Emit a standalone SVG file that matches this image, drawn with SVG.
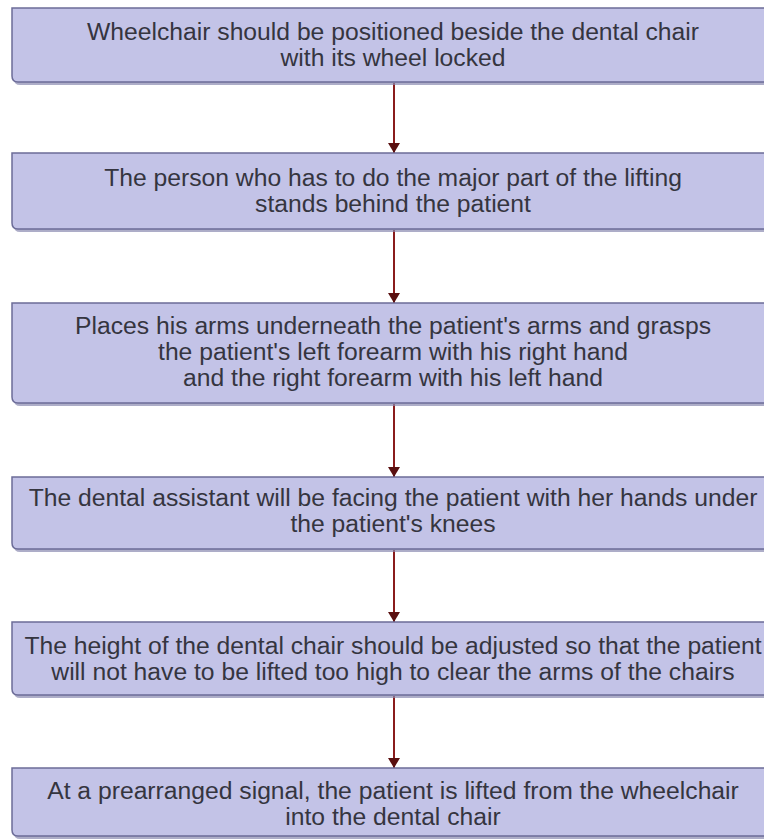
<svg xmlns="http://www.w3.org/2000/svg" width="764" height="840" viewBox="0 0 764 840">
<style>
.box{fill:#c3c3e7;stroke:#6c6c98;stroke-width:1.5}
.shadow{fill:#8a8ab0;opacity:0.7}
.t{font-family:"Liberation Sans",Arial,sans-serif;font-size:24.7px;fill:#35353f;text-anchor:middle}
.c{stroke:#8a1c1c;stroke-width:2;fill:none}
</style>
<defs>
<marker id="ah" viewBox="0 0 10 12" refX="10" refY="6" markerWidth="10" markerHeight="12" markerUnits="userSpaceOnUse" orient="auto">
<path d="M0,0 L10,6 L0,12 Z" fill="#5a1010"/>
</marker>
</defs>
<rect width="764" height="840" fill="#ffffff"/>
<g id="connectors">
<line class="c" x1="394" y1="83" x2="394" y2="153" marker-end="url(#ah)"/>
<line class="c" x1="394" y1="230" x2="394" y2="303" marker-end="url(#ah)"/>
<line class="c" x1="394" y1="404" x2="394" y2="477" marker-end="url(#ah)"/>
<line class="c" x1="394" y1="550" x2="394" y2="622" marker-end="url(#ah)"/>
<line class="c" x1="394" y1="696" x2="394" y2="768" marker-end="url(#ah)"/>
</g>
<g id="n1">
<path class="shadow" d="M14,10 H780 V85 H20 Q14,85 14,79 Z"/>
<path class="box" d="M12,8 H780 V82 H18 Q12,82 12,76 Z"/>
<text class="t" x="393" y="40">Wheelchair should be positioned beside the dental chair</text>
<text class="t" x="393" y="66">with its wheel locked</text>
</g>
<g id="n2">
<path class="shadow" d="M14,155 H780 V232 H20 Q14,232 14,226 Z"/>
<path class="box" d="M12,153 H780 V229 H18 Q12,229 12,223 Z"/>
<text class="t" x="393" y="186">The person who has to do the major part of the lifting</text>
<text class="t" x="393" y="212">stands behind the patient</text>
</g>
<g id="n3">
<path class="shadow" d="M14,305 H780 V406 H20 Q14,406 14,400 Z"/>
<path class="box" d="M12,303 H780 V403 H18 Q12,403 12,397 Z"/>
<text class="t" x="393" y="334">Places his arms underneath the patient's arms and grasps</text>
<text class="t" x="393" y="360">the patient's left forearm with his right hand</text>
<text class="t" x="393" y="386">and the right forearm with his left hand</text>
</g>
<g id="n4">
<path class="shadow" d="M14,479 H780 V552 H20 Q14,552 14,546 Z"/>
<path class="box" d="M12,477 H780 V549 H18 Q12,549 12,543 Z"/>
<text class="t" x="393" y="506">The dental assistant will be facing the patient with her hands under</text>
<text class="t" x="393" y="532">the patient's knees</text>
</g>
<g id="n5">
<path class="shadow" d="M14,624 H780 V698 H20 Q14,698 14,692 Z"/>
<path class="box" d="M12,622 H780 V695 H18 Q12,695 12,689 Z"/>
<text class="t" x="393" y="654">The height of the dental chair should be adjusted so that the patient</text>
<text class="t" x="393" y="680">will not have to be lifted too high to clear the arms of the chairs</text>
</g>
<g id="n6">
<path class="shadow" d="M14,770 H780 V839 H20 Q14,839 14,833 Z"/>
<path class="box" d="M12,768 H780 V836 H18 Q12,836 12,830 Z"/>
<text class="t" x="393" y="799">At a prearranged signal, the patient is lifted from the wheelchair</text>
<text class="t" x="393" y="825">into the dental chair</text>
</g>
</svg>
